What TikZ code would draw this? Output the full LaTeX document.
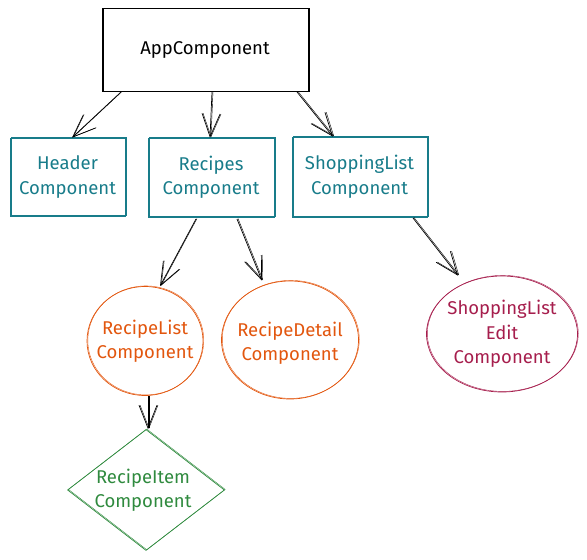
\documentclass[tikz,border=0pt]{standalone}
\usepackage{fontspec}
\setmainfont{Fira Sans}
\usetikzlibrary{arrows.meta,shapes.geometric}
\definecolor{tealc}{RGB}{24,124,138}
\definecolor{orangec}{RGB}{226,86,14}
\definecolor{crimsonc}{RGB}{166,30,77}
\definecolor{greenc}{RGB}{47,138,62}
\tikzset{
  sketch/.style={draw=#1, line width=0.7pt,
    preaction={draw=#1, line width=0.4pt, transform canvas={shift={(0.8pt,0.6pt)}}}},
  lbl/.style={font=\fontsize{18.5}{24.5}\selectfont, align=center, text=#1},
  boxn/.style={rectangle, sketch=#1, inner sep=0pt},
  ovaln/.style={ellipse, sketch=#1, inner sep=0pt},
  link/.style={draw=black, line width=0.7pt,
    -{Straight Barb[length=23pt,width=18pt,line width=0.7pt]},
    preaction={draw=black, line width=0.4pt, transform canvas={shift={(1pt,0.5pt)}},
      -{Straight Barb[length=23pt,width=18pt,line width=0.4pt]}}},
}
\begin{document}
\begin{tikzpicture}[x=1pt,y=-1pt]
\useasboundingbox (0,0) rectangle (587,560);
% top
\node[boxn=black, line width=1pt, minimum width=206pt, minimum height=83pt] (app) at (205,50) {};
\node[lbl=black] (appt) at (app) {AppComponent};
% second row
\node[boxn=tealc, minimum width=115pt, minimum height=78pt] (header) at (67.5,177) {};
\node[lbl=tealc] (headert) at (header) {Header\\Component};
\node[boxn=tealc, minimum width=126pt, minimum height=79pt] (recipes) at (211,177.5) {};
\node[lbl=tealc] (recipest) at (recipes) {Recipes\\Component};
\node[boxn=tealc, minimum width=135pt, minimum height=80pt] (shop) at (359.5,177) {};
\node[lbl=tealc] (shopt) at (shop) {ShoppingList\\Component};
% third row
\node[ovaln=orangec, minimum width=116pt, minimum height=109pt] (rlist) at (145,341) {};
\node[lbl=orangec] (rlistt) at (rlist) {RecipeList\\Component};
\node[ovaln=orangec, minimum width=137pt, minimum height=118pt] (rdetail) at (290,340) {};
\node[lbl=orangec] (rdetailt) at ([yshift=-3pt]rdetail) {RecipeDetail\\Component};
\node[ovaln=crimsonc, minimum width=151pt, minimum height=116pt] (sedit) at (502,334) {};
\node[lbl=crimsonc] (seditt) at (sedit) {ShoppingList\\Edit\\Component};
% diamond
\node[diamond, sketch=greenc, inner sep=0pt, minimum width=157pt, minimum height=121pt] (ritem) at (146,490) {};
\node[lbl=greenc] (ritemt) at ([xshift=-3pt]ritem) {RecipeItem\\Component};
% connectors
\coordinate (a1) at (121,92);
\coordinate (a2) at (212,92);
\coordinate (a3) at (297,92);
\draw[link] (a1) -- (header.north east -| 72,0) ;
\draw[link] (a2) -- (recipes.north -| 210,0);
\draw[link] (a3) -- (shop.north west -| 333,0);
\coordinate (b1) at (196,219);
\coordinate (b2) at (237,219);
\coordinate (b3) at (413,218);
\draw[link] (b1) -- (rlist.north -| 160,0);
\draw[link] (b2) -- (rdetail.north -| 262,0);
\draw[link] (b3) -- (sedit.north -| 458,0);
\coordinate (c1) at (148,396);
\draw[link] (c1) -- (ritem.north -| 148,0);
\end{tikzpicture}
\end{document}
